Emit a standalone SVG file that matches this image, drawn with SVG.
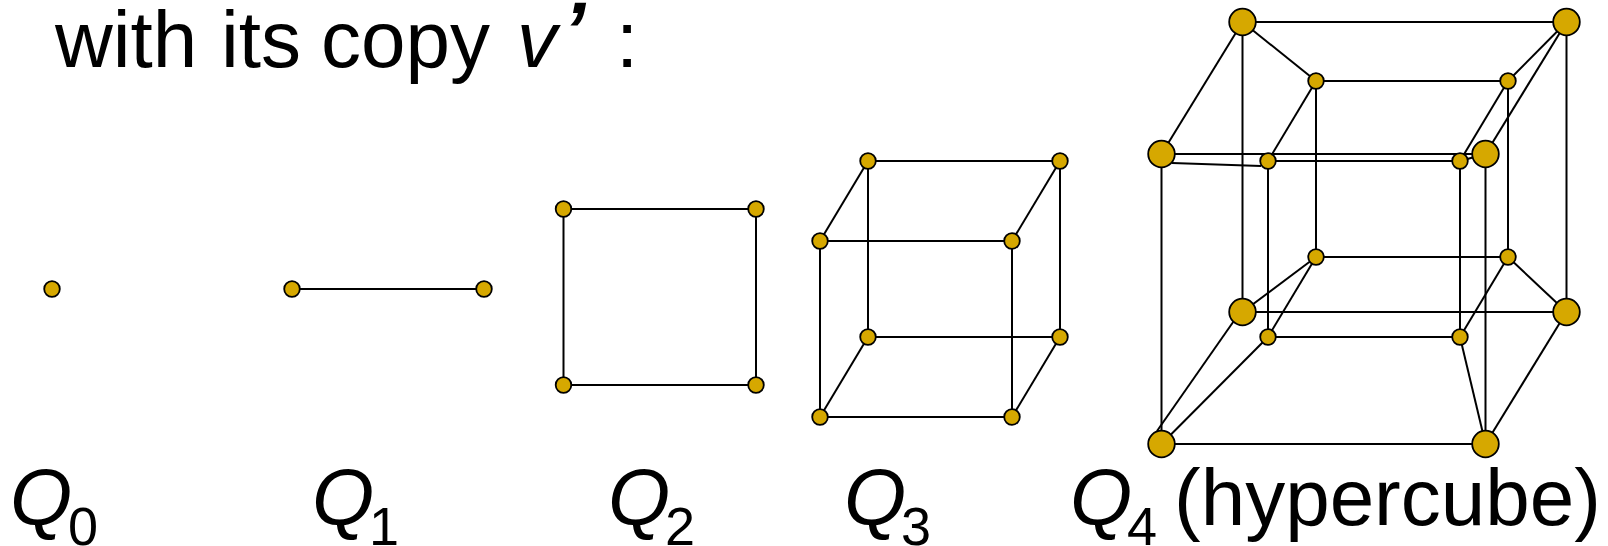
<svg xmlns="http://www.w3.org/2000/svg" width="1608" height="546" viewBox="0 0 1608 546">
<style>
text{font-family:"Liberation Sans",Arial,sans-serif;fill:#000}
.t{font-size:80px}
.s{font-size:54px}
.i{font-style:italic}
#connectors line{stroke:#000;stroke-width:2}
.n circle{fill:#d6a800;stroke:#000;stroke-width:1.8}
.n .sm{r:7.8px}
.n .bg{r:13.3px}
</style>
<rect width="1608" height="546" fill="#fff"/>
<text id="title" class="t" x="55" y="67">with <tspan x="221">its</tspan> <tspan x="321">copy</tspan></text>
<text class="t i" x="517" y="67">v</text>
<text class="t i" x="563" y="58" font-weight="bold">’</text>
<text class="t" x="616" y="67">:</text>
<g id="connectors">
<line x1="292" y1="289" x2="484" y2="289"/>
<line x1="563.5" y1="209" x2="756" y2="209"/><line x1="563.5" y1="385" x2="756" y2="385"/><line x1="563.5" y1="209" x2="563.5" y2="385"/><line x1="756" y1="209" x2="756" y2="385"/>
<line x1="868" y1="161" x2="1060" y2="161"/><line x1="820" y1="241" x2="1012" y2="241"/><line x1="868" y1="337" x2="1060" y2="337"/><line x1="820" y1="417" x2="1012" y2="417"/>
<line x1="868" y1="161" x2="868" y2="337"/><line x1="1060" y1="161" x2="1060" y2="337"/><line x1="820" y1="241" x2="820" y2="417"/><line x1="1012" y1="241" x2="1012" y2="417"/>
<line x1="868" y1="161" x2="820" y2="241"/><line x1="1060" y1="161" x2="1012" y2="241"/><line x1="868" y1="337" x2="820" y2="417"/><line x1="1060" y1="337" x2="1012" y2="417"/>
<line x1="1242.5" y1="22" x2="1566.5" y2="22"/><line x1="1242.5" y1="312" x2="1566.5" y2="312"/><line x1="1161.5" y1="154" x2="1485.5" y2="154"/><line x1="1161.5" y1="444" x2="1485.5" y2="444"/>
<line x1="1242.5" y1="22" x2="1242.5" y2="312"/><line x1="1566.5" y1="22" x2="1566.5" y2="312"/><line x1="1161.5" y1="154" x2="1161.5" y2="444"/><line x1="1485.5" y1="154" x2="1485.5" y2="444"/>
<line x1="1242.5" y1="22" x2="1161.5" y2="154"/><line x1="1566.5" y1="22" x2="1485.5" y2="154"/><line x1="1233.5" y1="321.5" x2="1157" y2="431"/><line x1="1566.5" y1="312" x2="1485.5" y2="444"/>
<line x1="1316" y1="81" x2="1508" y2="81"/><line x1="1316" y1="257" x2="1508" y2="257"/><line x1="1268" y1="161" x2="1460" y2="161"/><line x1="1268" y1="337" x2="1460" y2="337"/>
<line x1="1316" y1="81" x2="1316" y2="257"/><line x1="1508" y1="81" x2="1508" y2="257"/><line x1="1268" y1="161" x2="1268" y2="337"/><line x1="1460" y1="161" x2="1460" y2="337"/>
<line x1="1316" y1="81" x2="1268" y2="161"/><line x1="1508" y1="81" x2="1460" y2="161"/><line x1="1316" y1="257" x2="1268" y2="337"/><line x1="1508" y1="257" x2="1460" y2="337"/>
<line x1="1242.5" y1="22" x2="1316" y2="81"/><line x1="1566.5" y1="22" x2="1508" y2="81"/><line x1="1172" y1="163" x2="1261" y2="166"/><line x1="1485.5" y1="154" x2="1460" y2="161"/>
<line x1="1242.5" y1="312" x2="1316" y2="257"/><line x1="1566.5" y1="312" x2="1508" y2="257"/><line x1="1161.5" y1="444" x2="1268" y2="337"/><line x1="1485.5" y1="444" x2="1460" y2="337"/>
</g>
<g id="q0" class="n"><circle class="sm" cx="52" cy="289" r="7.8"/></g>
<g id="q1" class="n"><circle class="sm" cx="292" cy="289" r="7.8"/><circle class="sm" cx="484" cy="289" r="7.8"/></g>
<g id="q2" class="n"><circle class="sm" cx="563.5" cy="209" r="7.8"/><circle class="sm" cx="756" cy="209" r="7.8"/><circle class="sm" cx="563.5" cy="385" r="7.8"/><circle class="sm" cx="756" cy="385" r="7.8"/></g>
<g id="q3" class="n"><circle class="sm" cx="868" cy="161" r="7.8"/><circle class="sm" cx="1060" cy="161" r="7.8"/><circle class="sm" cx="820" cy="241" r="7.8"/><circle class="sm" cx="1012" cy="241" r="7.8"/><circle class="sm" cx="868" cy="337" r="7.8"/><circle class="sm" cx="1060" cy="337" r="7.8"/><circle class="sm" cx="820" cy="417" r="7.8"/><circle class="sm" cx="1012" cy="417" r="7.8"/></g>
<g id="q4" class="n">
<circle cx="1316" cy="81" r="7.8"/><circle cx="1508" cy="81" r="7.8"/><circle cx="1268" cy="161" r="7.8"/><circle cx="1460" cy="161" r="7.8"/><circle cx="1316" cy="257" r="7.8"/><circle cx="1508" cy="257" r="7.8"/><circle cx="1268" cy="337" r="7.8"/><circle cx="1460" cy="337" r="7.8"/>
<circle cx="1242.5" cy="22" r="13.3"/><circle cx="1566.5" cy="22" r="13.3"/><circle cx="1161.5" cy="154" r="13.3"/><circle cx="1485.5" cy="154" r="13.3"/><circle cx="1242.5" cy="312" r="13.3"/><circle cx="1566.5" cy="312" r="13.3"/><circle cx="1161.5" cy="444" r="13.3"/><circle cx="1485.5" cy="444" r="13.3"/>
</g>
<text class="t i" x="10" y="525">Q</text><text class="s" x="68" y="545">0</text>
<text class="t i" x="312" y="525">Q</text><text class="s" x="369" y="545">1</text>
<text class="t i" x="608" y="525">Q</text><text class="s" x="665" y="545">2</text>
<text class="t i" x="844" y="525">Q</text><text class="s" x="901" y="545">3</text>
<text class="t i" x="1070" y="525">Q</text><text class="s" x="1127" y="545">4</text>
<text class="t" x="1174" y="525">(hypercube)</text>
</svg>
